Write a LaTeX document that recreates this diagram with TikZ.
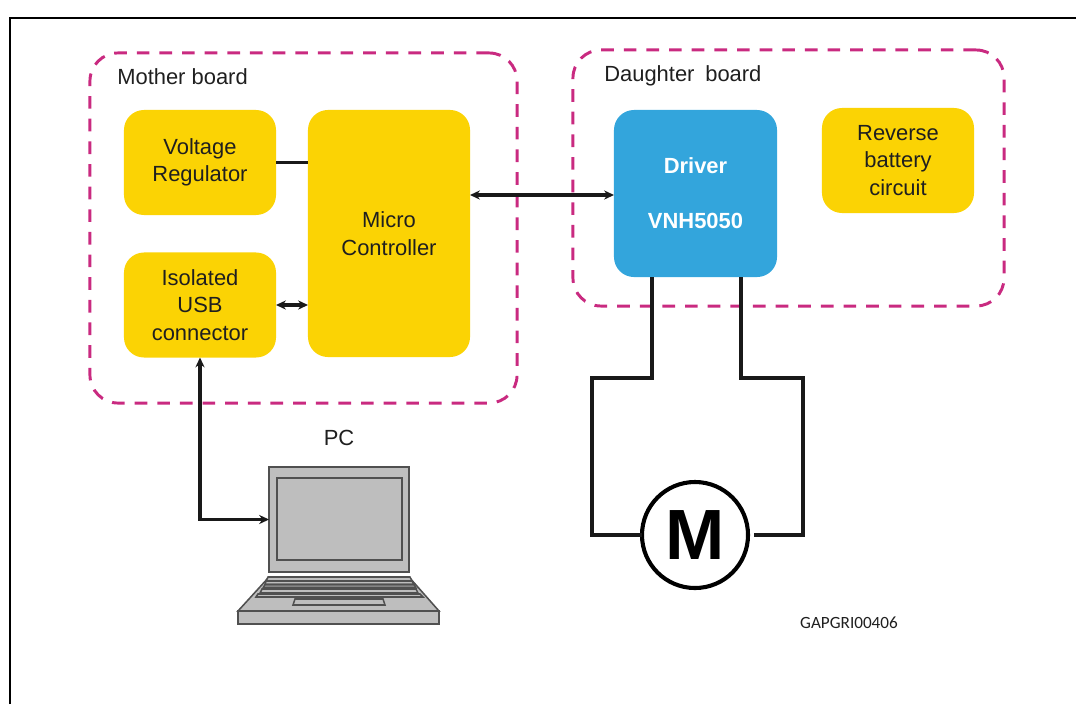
\documentclass[tikz,border=0pt]{standalone}
\usepackage{fontspec}
\setmainfont{Liberation Sans}
\newfontfamily\codefont{Carlito}
\usetikzlibrary{
    arrows.meta,
    calc,
    positioning
}
\definecolor{boardpink}{HTML}{C92A80}
\definecolor{blockyellow}{HTML}{FBD304}
\definecolor{driverblue}{HTML}{33A5DC}
\definecolor{pcgrey}{HTML}{BEBEBE}
\definecolor{pcline}{HTML}{505050}
\tikzset{
    blocktext/.style={font=\fontsize{15.6}{19.6}\selectfont, text=black!88, align=center},
    yellowblock/.style={blocktext, fill=blockyellow, rounded corners=0.5cm, outer sep=0pt, minimum width=3.8cm, minimum height=2.625cm},
    boardbox/.style={draw=boardpink, line width=2.1pt, rounded corners=0.7cm, dash pattern=on 9pt off 7.1pt, outer sep=0pt},
    boardlabel/.style={blocktext, anchor=west, inner sep=0pt},
    wire/.style={line width=2.6pt, black!90},
    link/.style={line width=2.2pt, black!90, >={Stealth[length=7pt,width=6.5pt]}},
    pcpart/.style={draw=pcline, fill=pcgrey, line width=1.1pt, outer sep=0pt}
}
\begin{document}
\begin{tikzpicture}[x=0.025cm, y=-0.025cm]
    \useasboundingbox (0, 0) rectangle (1076, 704);
    \coordinate (framebl) at (10, 704);
    \coordinate (frametl) at (10, 18);
    \coordinate (frametr) at (1076, 18);
    \draw[line width=2pt] (framebl) -- (frametl) -- (frametr);

    \node[boardbox, minimum width=10.675cm, minimum height=8.75cm] (mother) at (303.5, 228) {};
    \node[boardbox, minimum width=10.775cm, minimum height=6.4cm] (daughter) at (788.5, 178) {};
    \node[boardlabel] (motherlabel) at (117, 77) {Mother board};
    \node[boardlabel] (daughterlabel) at (604, 76) {Daughter\hspace{7.7pt}board};

    \node[yellowblock] (volt) at (200, 162.5) {Voltage\\Regulator};
    \node[yellowblock] (usb) at (200, 305) {Isolated\\USB\\connector};
    \node[yellowblock, minimum width=4.05cm, minimum height=6.175cm] (micro) at (389, 233.5) {Micro\\Controller};
    \node[yellowblock] (reverse) at (898, 160.5) {Reverse\\battery\\circuit};
    \node[yellowblock, fill=driverblue, text=white, font=\fontsize{15.6}{19.6}\selectfont\bfseries, minimum width=4.075cm, minimum height=4.175cm] (driver) at (695.5, 193.5) {Driver\\[19.6pt]VNH5050};

    \node[blocktext] (pclabel) at (339, 438) {PC};
    \node[pcpart, minimum width=3.5cm, minimum height=2.625cm] (screen) at (339, 519.5) {};
    \node[pcpart, minimum width=3.125cm, minimum height=2.05cm, line width=1.4pt] (display) at (339.5, 519) {};
    \draw[pcpart] (269, 577) -- (409, 577) -- (439, 611) -- (238, 611) -- cycle;
    \draw[pcpart] (268, 577) -- (410, 577) -- (412, 581) -- (266, 581) -- cycle;
    \draw[pcpart] (266, 581) -- (412, 581) -- (414, 584.5) -- (265, 584.5) -- cycle;
    \draw[pcpart, fill=pcgrey!70!black] (265, 584.5) -- (414, 584.5) -- (416, 588) -- (263, 588) -- cycle;
    \draw[pcpart] (262, 589) -- (416, 589) -- (418, 593) -- (260, 593) -- cycle;
    \draw[pcpart] (258, 594) -- (420, 594) -- (423, 597) -- (256, 597) -- cycle;
    \draw[pcpart] (295, 599) -- (383, 599) -- (385, 605) -- (293, 605) -- cycle;
    \node[pcpart, minimum width=5.025cm, minimum height=0.325cm] (pcbase) at (338.5, 617.5) {};

    \node[circle, draw, line width=2.9pt, minimum size=2.65cm, inner sep=0pt, outer sep=0pt, font=\fontsize{50.6}{50.6}\selectfont\bfseries] (motor) at (695, 535) {M};
    \node[font=\codefont\fontsize{12.2}{14}\selectfont, text=black!88] (partcode) at (849, 623) {GAPGRI00406};

    \coordinate (busy) at (540, 195);
    \coordinate (wireleft) at (652, 378);
    \coordinate (wireright) at (741, 378);
    \coordinate (cornerleft) at (592, 378);
    \coordinate (cornerright) at (803, 378);
    \coordinate (pcturn) at (200, 519.5);

    \draw[wire] (volt.east) -- (micro.west |- volt.east);
    \draw[link, <->] (usb.east) -- (micro.west |- usb.east);
    \draw[link, <->] (micro.east |- busy) -- (driver.west |- busy);
    \draw[link, <->] (usb.south) -- (pcturn) -- (screen.west);
    \draw[wire] (driver.south -| wireleft) -- (wireleft) -- (cornerleft) -- (cornerleft |- motor.west) -- (motor.west);
    \draw[wire, shorten >=4pt] (driver.south -| wireright) -- (wireright) -- (cornerright) -- (cornerright |- motor.east) -- (motor.east);
\end{tikzpicture}
\end{document}
